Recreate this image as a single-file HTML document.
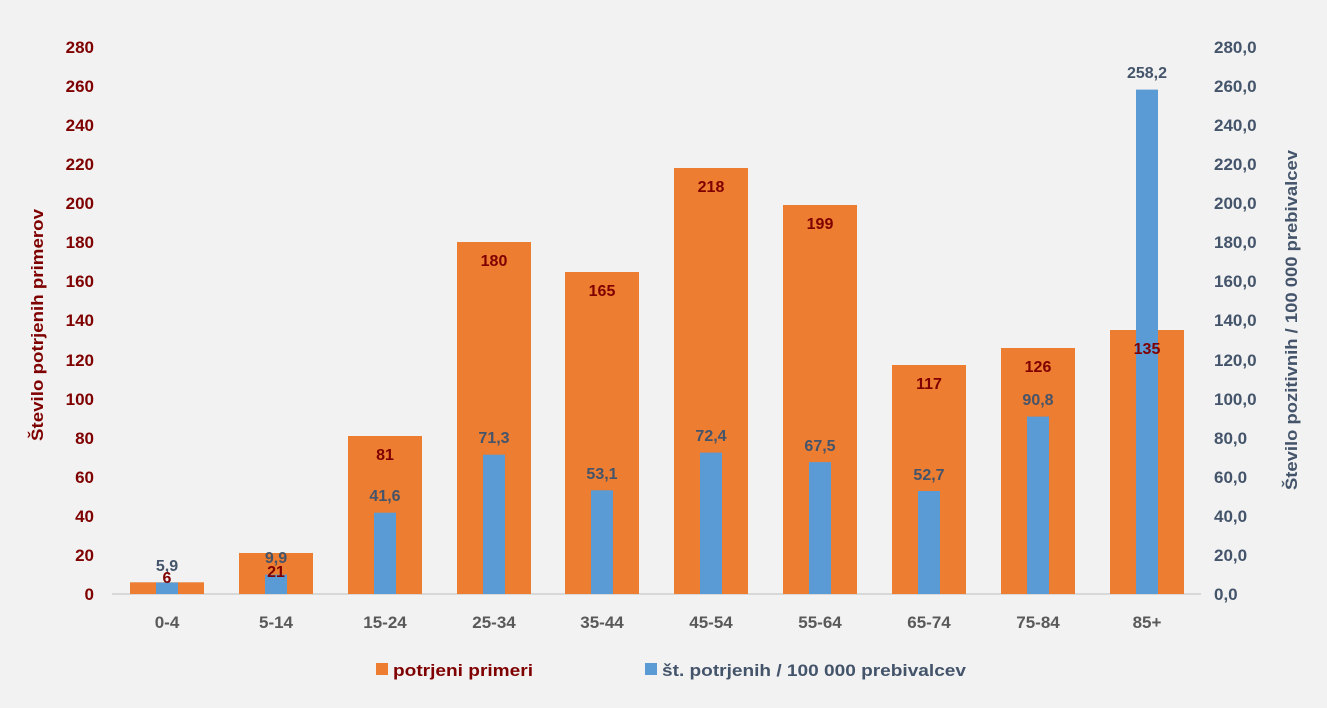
<!DOCTYPE html>
<html><head><meta charset="utf-8"><style>
html,body{margin:0;padding:0;background:#f2f2f2;}
svg{display:block;font-family:"Liberation Sans",sans-serif;font-weight:bold;}
</style></head><body>
<svg width="1327" height="708" viewBox="0 0 1327 708" xmlns="http://www.w3.org/2000/svg">
<rect width="1327" height="708" fill="#f2f2f2"/>
<g font-size="17" fill="#7f0000" text-anchor="end">
<text x="94" y="600">0</text><text x="94" y="561">20</text><text x="94" y="522">40</text><text x="94" y="483">60</text><text x="94" y="444">80</text><text x="94" y="405">100</text><text x="94" y="366">120</text><text x="94" y="326">140</text><text x="94" y="287">160</text><text x="94" y="248">180</text><text x="94" y="209">200</text><text x="94" y="170">220</text><text x="94" y="131">240</text><text x="94" y="92">260</text><text x="94" y="53">280</text>
</g>
<g font-size="17" fill="#44546a" text-anchor="start">
<text x="1214" y="600">0,0</text><text x="1214" y="561">20,0</text><text x="1214" y="522">40,0</text><text x="1214" y="483">60,0</text><text x="1214" y="444">80,0</text><text x="1214" y="405">100,0</text><text x="1214" y="366">120,0</text><text x="1214" y="326">140,0</text><text x="1214" y="287">160,0</text><text x="1214" y="248">180,0</text><text x="1214" y="209">200,0</text><text x="1214" y="170">220,0</text><text x="1214" y="131">240,0</text><text x="1214" y="92">260,0</text><text x="1214" y="53">280,0</text>
</g>
<text transform="translate(43,325) rotate(-90)" font-size="17" fill="#7f0000" text-anchor="middle" textLength="232" lengthAdjust="spacingAndGlyphs">Število potrjenih primerov</text>
<text transform="translate(1297,320) rotate(-90)" font-size="17" fill="#44546a" text-anchor="middle" textLength="340" lengthAdjust="spacingAndGlyphs">Število pozitivnih / 100 000 prebivalcev</text>
<line x1="112" y1="594" x2="1201" y2="594" stroke="#d0d0d0" stroke-width="1.5"/>
<g fill="#ed7d31">
<rect x="130" y="582.3" width="74" height="11.7"/>
<rect x="239" y="553" width="74" height="41"/>
<rect x="348" y="436" width="74" height="158"/>
<rect x="457" y="242" width="74" height="352"/>
<rect x="565" y="272" width="74" height="322"/>
<rect x="674" y="168" width="74" height="426"/>
<rect x="783" y="205" width="74" height="389"/>
<rect x="892" y="365" width="74" height="229"/>
<rect x="1001" y="348" width="74" height="246"/>
<rect x="1110" y="330" width="74" height="264"/>
</g>
<g fill="#5b9bd5">
<rect x="156" y="582.5" width="22" height="11.5"/>
<rect x="265" y="574.7" width="22" height="19.3"/>
<rect x="374" y="512.7" width="22" height="81.3"/>
<rect x="483" y="454.7" width="22" height="139.3"/>
<rect x="591" y="490.3" width="22" height="103.7"/>
<rect x="700" y="452.6" width="22" height="141.4"/>
<rect x="809" y="462.1" width="22" height="131.9"/>
<rect x="918" y="491" width="22" height="103"/>
<rect x="1027" y="416.6" width="22" height="177.4"/>
<rect x="1136" y="89.6" width="22" height="504.4"/>
</g>
<g font-size="16" fill="#44546a" text-anchor="middle">
<text x="167" y="571">5,9</text><text x="276" y="563">9,9</text><text x="385" y="501">41,6</text><text x="494" y="443">71,3</text><text x="602" y="479">53,1</text><text x="711" y="441">72,4</text><text x="820" y="451">67,5</text><text x="929" y="480">52,7</text><text x="1038" y="405">90,8</text><text x="1147" y="78">258,2</text>
</g>
<g font-size="16" fill="#7f0000" text-anchor="middle">
<text x="167" y="583">6</text><text x="276" y="577">21</text><text x="385" y="460">81</text><text x="494" y="266">180</text><text x="602" y="296">165</text><text x="711" y="192">218</text><text x="820" y="229">199</text><text x="929" y="389">117</text><text x="1038" y="372">126</text><text x="1147" y="354">135</text>
</g>
<g font-size="17" fill="#595959" text-anchor="middle">
<text x="167" y="628">0-4</text><text x="276" y="628">5-14</text><text x="385" y="628">15-24</text><text x="494" y="628">25-34</text><text x="602" y="628">35-44</text><text x="711" y="628">45-54</text><text x="820" y="628">55-64</text><text x="929" y="628">65-74</text><text x="1038" y="628">75-84</text><text x="1147" y="628">85+</text>
</g>
<rect x="376" y="663" width="12" height="12" fill="#ed7d31"/>
<text x="393" y="676" font-size="17" fill="#7f0000" textLength="140" lengthAdjust="spacingAndGlyphs">potrjeni primeri</text>
<rect x="645" y="663" width="12" height="12" fill="#5b9bd5"/>
<text x="662" y="676" font-size="17" fill="#44546a" textLength="304" lengthAdjust="spacingAndGlyphs">št. potrjenih / 100 000 prebivalcev</text>
</svg>
</body></html>
